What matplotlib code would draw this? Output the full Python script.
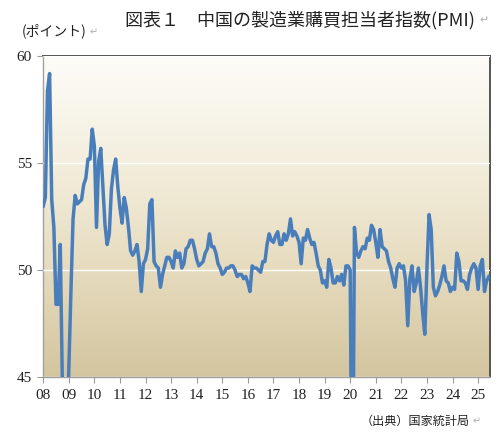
import numpy as np
import matplotlib
matplotlib.use("Agg")
import matplotlib.pyplot as plt
from matplotlib.colors import LinearSegmentedColormap

plt.rcParams['font.family'] = ['Noto Sans CJK JP', 'DejaVu Sans']

# 月次PMI（2008年1月～2025年6月）
pmi_2008 = [53.0, 53.4, 58.4, 59.2, 53.3, 52.0, 48.4, 48.4, 51.2, 44.6, 38.8, 41.2]
pmi_2009 = [45.3, 49.0, 52.4, 53.5, 53.1, 53.2, 53.3, 54.0, 54.3, 55.2, 55.2, 56.6]
pmi_2010 = [55.8, 52.0, 55.1, 55.7, 53.9, 52.1, 51.2, 51.7, 53.8, 54.7, 55.2, 53.9]
pmi_2011 = [52.9, 52.2, 53.4, 52.9, 52.0, 50.9, 50.7, 50.9, 51.2, 50.4, 49.0, 50.3]
pmi_2012 = [50.5, 51.0, 53.1, 53.3, 50.4, 50.2, 50.1, 49.2, 49.8, 50.2, 50.6, 50.6]
pmi_2013 = [50.4, 50.1, 50.9, 50.6, 50.8, 50.1, 50.3, 51.0, 51.1, 51.4, 51.4, 51.0]
pmi_2014 = [50.5, 50.2, 50.3, 50.4, 50.8, 51.0, 51.7, 51.1, 51.1, 50.8, 50.3, 50.1]
pmi_2015 = [49.8, 49.9, 50.1, 50.1, 50.2, 50.2, 50.0, 49.7, 49.8, 49.8, 49.6, 49.7]
pmi_2016 = [49.4, 49.0, 50.2, 50.1, 50.1, 50.0, 49.9, 50.4, 50.4, 51.2, 51.7, 51.4]
pmi_2017 = [51.3, 51.6, 51.8, 51.2, 51.2, 51.7, 51.4, 51.7, 52.4, 51.6, 51.8, 51.6]
pmi_2018 = [51.3, 50.3, 51.5, 51.4, 51.9, 51.5, 51.2, 51.3, 50.8, 50.2, 50.0, 49.4]
pmi_2019 = [49.5, 49.2, 50.5, 50.1, 49.4, 49.4, 49.7, 49.5, 49.8, 49.3, 50.2, 50.2]
pmi_2020 = [50.0, 35.7, 52.0, 50.8, 50.6, 50.9, 51.1, 51.0, 51.5, 51.4, 52.1, 51.9]
pmi_2021 = [51.3, 50.6, 51.9, 51.1, 51.0, 50.9, 50.4, 50.1, 49.6, 49.2, 50.1, 50.3]
pmi_2022 = [50.1, 50.2, 49.5, 47.4, 49.6, 50.2, 49.0, 49.4, 50.1, 49.2, 48.0, 47.0]
pmi_2023 = [50.1, 52.6, 51.9, 49.2, 48.8, 49.0, 49.3, 49.7, 50.2, 49.5, 49.4, 49.0]
pmi_2024 = [49.2, 49.1, 50.8, 50.4, 49.5, 49.5, 49.4, 49.1, 49.8, 50.1, 50.3, 50.1]
pmi_2025 = [49.1, 50.2, 50.5, 49.0, 49.5, 49.7]

years = ['08', '09', '10', '11', '12', '13', '14', '15', '16',
         '17', '18', '19', '20', '21', '22', '23', '24', '25']

pmi = (pmi_2008 + pmi_2009 + pmi_2010 + pmi_2011 + pmi_2012 + pmi_2013
       + pmi_2014 + pmi_2015 + pmi_2016 + pmi_2017 + pmi_2018 + pmi_2019
       + pmi_2020 + pmi_2021 + pmi_2022 + pmi_2023 + pmi_2024 + pmi_2025)
months = np.arange(len(pmi))

fig = plt.figure(figsize=(5.04, 4.43), dpi=100)
ax = fig.add_axes([0.0853, 0.149, 0.887, 0.7235])

# 背景のグラデーション
cmap = LinearSegmentedColormap.from_list(
    'bg', ['#d3c59f', '#e6dbbe', '#f3eedd', '#fdfcf8'])
grad = np.linspace(0, 1, 256).reshape(-1, 1)
ax.imshow(grad, aspect='auto', cmap=cmap, origin='lower',
          extent=[-0.1, 209.6, 45, 60], zorder=0)

ax.plot(months, pmi, color='#4a7ebb', lw=2.5, zorder=3,
        solid_joinstyle='round')

ax.set_xlim(-0.1, 209.6)
ax.set_ylim(45, 60)
ax.set_yticks([45, 50, 55, 60])
ax.set_xticks(np.arange(len(years)) * 12)
ax.set_xticklabels(years)
ax.grid(axis='y', color='white', lw=1.0, zorder=1)
ax.set_axisbelow(False)

ax.tick_params(axis='both', labelsize=11, color='#9a9a9a', length=4,
               labelcolor='#222222')
ax.tick_params(axis='x', pad=5)
ax.tick_params(axis='y', pad=4)
for lab in ax.get_xticklabels() + ax.get_yticklabels():
    lab.set_fontfamily('Liberation Serif')
for s in ['left', 'bottom']:
    ax.spines[s].set_color('#a0a0a0')
    ax.spines[s].set_linewidth(1.0)
for s in ['top', 'right']:
    ax.spines[s].set_color('#555555')
    ax.spines[s].set_linewidth(1.4)

mark = '#b0b0b0'
fig.text(0.595, 0.955, '図表１　中国の製造業購買担当者指数(PMI)', ha='center',
         va='center', fontsize=13, color='#222222')
fig.text(0.952, 0.955, '↵', ha='left', va='center', fontsize=8, color=mark)
fig.text(0.044, 0.93, '(ポイント)', ha='left', va='center', fontsize=10,
         color='#222222')
fig.text(0.178, 0.928, '↵', ha='left', va='center', fontsize=7, color=mark)
fig.text(0.716, 0.048, '（出典）国家統計局', ha='left', va='center',
         fontsize=8.7, color='#222222')
fig.text(0.938, 0.048, '↵', ha='left', va='center', fontsize=7, color=mark)

fig.savefig('out.png', dpi=100)
